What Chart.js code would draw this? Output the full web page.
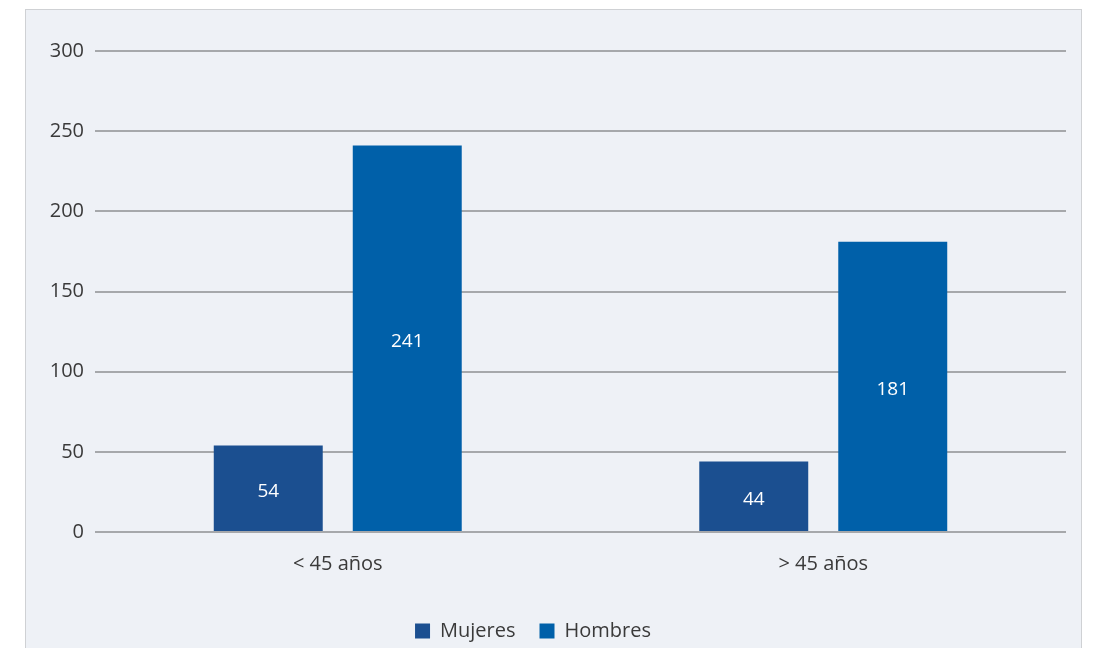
<!DOCTYPE html>
<html>
<head>
<meta charset="utf-8">
<script src="https://cdn.jsdelivr.net/npm/chart.js@4.4.1/dist/chart.umd.min.js"></script>
<style>
  html, body { margin: 0; padding: 0; background: #ffffff; width: 1100px; height: 648px; overflow: hidden; }
  #panel { position: absolute; left: 25px; top: 9px; width: 1057px; height: 660px;
           background: #eef1f6; border: 1px solid #cfd1d4; box-sizing: border-box; }
  #wrap { position: absolute; left: 0; top: 0; width: 1100px; height: 656px; }
</style>
</head>
<body>
<div id="panel"></div>
<div id="wrap"><canvas id="chart" width="1100" height="656"></canvas></div>
<script>
// Age groups and counts per sex
const categories = ['< 45 años', '> 45 años'];
const mujeres = [54, 44];
const hombres = [241, 181];
const yTicks = [0, 50, 100, 150, 200, 250, 300];

const FONT = "'Open Sans', 'Noto Sans', sans-serif";
const TEXT = '#3a3a3a';

// White value labels centred inside each bar
const barValueLabels = {
  id: 'barValueLabels',
  afterDatasetsDraw(chart) {
    const ctx = chart.ctx;
    ctx.save();
    ctx.fillStyle = '#ffffff';
    ctx.font = "19px " + FONT;
    ctx.textAlign = 'center';
    ctx.textBaseline = 'middle';
    chart.data.datasets.forEach((ds, di) => {
      chart.getDatasetMeta(di).data.forEach((bar, i) => {
        const mid = (bar.y + bar.base) / 2;
        ctx.fillText(String(ds.data[i]), bar.x, mid + 3);
      });
    });
    ctx.restore();
  }
};

new Chart(document.getElementById('chart'), {
  type: 'bar',
  data: {
    labels: categories,
    datasets: [
      { label: 'Mujeres', data: mujeres, backgroundColor: '#1b4f90', borderWidth: 0 },
      { label: 'Hombres', data: hombres, backgroundColor: '#0060a9', borderWidth: 0 }
    ]
  },
  options: {
    responsive: false,
    animation: false,
    categoryPercentage: 0.5726,
    barPercentage: 0.784,
    layout: { padding: { left: 0, right: 34, top: 51, bottom: 5 } },
    plugins: {
      legend: {
        position: 'bottom',
        labels: {
          boxWidth: 15, boxHeight: 15, padding: 24,
          color: TEXT,
          font: { family: FONT, size: 20 }
        }
      },
      tooltip: { enabled: false }
    },
    scales: {
      x: {
        grid: { display: false },
        border: { display: false },
        ticks: { color: TEXT, font: { family: FONT, size: 20 }, padding: 12 },
        afterFit(scale) { scale.height = 65; }
      },
      y: {
        min: 0, max: 300,
        afterBuildTicks(scale) { scale.ticks = yTicks.map(v => ({ value: v })); },
        grid: { color: '#a6a8ab', lineWidth: 2, drawTicks: false },
        border: { display: false },
        ticks: { color: TEXT, font: { family: FONT, size: 20 }, padding: 11 },
        afterFit(scale) { scale.width = 95; }
      }
    }
  },
  plugins: [barValueLabels]
});
</script>
</body>
</html>
